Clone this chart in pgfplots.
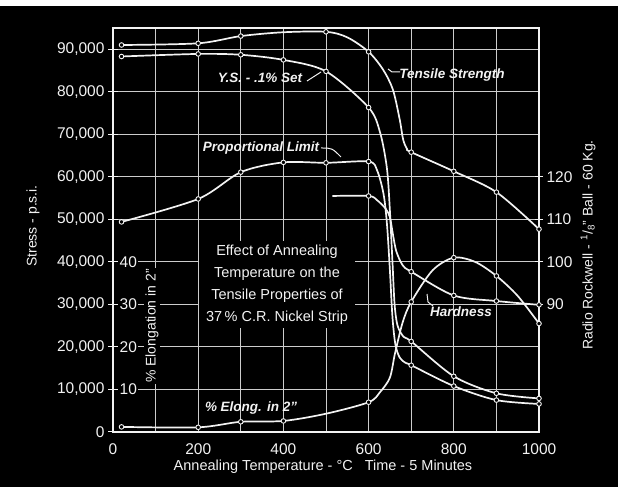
\documentclass[border=0pt]{standalone}
\usepackage{pgfplots}
\pgfplotsset{compat=1.18}
\usepackage{fontspec}
\setmainfont{Liberation Sans}
\definecolor{gridc}{gray}{0.80}
\definecolor{ink}{gray}{0.95}

\begin{document}
\begin{tikzpicture}[x=1bp,y=1bp]
\useasboundingbox (0,0) rectangle (618,487);
\fill[black] (0,0) rectangle (618,481);
\fill[white] (0,481) rectangle (618,487);

\pgfplotsset{
  every axis/.append style={
    scale only axis, width=426bp, height=404bp,
    at={(113bp,55bp)}, anchor=south west,
    xmin=0, xmax=1000, clip=false,
    scaled ticks=false,
    /pgf/number format/assume math mode=true,
    tick label style={text=ink, font=\fontsize{15.5bp}{18bp}\selectfont},
  },
  curve/.style={ink, line width=1.7bp, smooth, tension=0.5, no marks},
  pts/.style={only marks, mark=*, mark size=2.3bp, mark options={draw=ink, fill=black, line width=0.9bp}},
}

% ---------------- Main axis: stress ----------------
\begin{axis}[
  ymin=0, ymax=95000,
  axis line style={ink, line width=1.3bp},
  grid=major, major grid style={gridc, line width=0.9bp},
  xtick={0,100,...,1000}, xticklabels={0,,200,,400,,600,,800,,1000},
  x tick style={draw=none},
  xticklabel style={yshift=-3bp},
  ytick={0,10000,...,90000},
  yticklabels={0,{10,000},{20,000},{30,000},{40,000},{50,000},{60,000},{70,000},{80,000},{90,000}},
  ytick pos=left,
  y tick style={ink, line width=1bp}, tick align=center, major tick length=10bp,
]
% Tensile strength
\addplot[curve] coordinates {(20,91000) (200,91400) (300,93100) (400,94000) (500,94100) (550,92800) (600,89400) (634,85200) (657,80500) (673,73500) (681,68800) (690,66600) (700,65800) (800,61300) (900,56400) (1000,47700)};
\addplot[pts] coordinates {(20,91000) (200,91400) (300,93100) (500,94100) (600,89400) (700,65800) (800,61300) (900,56400) (1000,47700)};
% Y.S. - .1% set
\addplot[curve] coordinates {(20,88300) (200,88900) (300,88700) (400,87500) (500,84800) (600,76300) (627,70400) (643,62000) (650,52000) (656,40000) (661,30000) (668,25000) (682,22400) (700,21300) (800,13100) (900,9100) (1000,7900)};
\addplot[pts] coordinates {(20,88300) (200,88900) (300,88700) (400,87500) (500,84800) (600,76300) (700,21300) (800,13100) (900,9100) (1000,7900)};
% Proportional limit
\addplot[curve] coordinates {(20,49400) (200,54800) (300,61100) (400,63400) (500,63300) (600,63600) (620,61500) (635,56000) (643,49000) (650,38000) (656,27000) (663,20500) (673,17500) (686,16300) (700,15700) (800,10800) (900,7500) (1000,6600)};
\addplot[pts] coordinates {(20,49400) (200,54800) (300,61100) (400,63400) (500,63300) (600,63600) (700,15700) (800,10800) (900,7500) (1000,6600)};
\end{axis}

% ---------------- Elongation axis (inner left) ----------------
\begin{axis}[
  ymin=0, ymax=95,
  hide x axis,
  axis y line*=left, y axis line style={draw=none},
  ytick={10,20,30,40}, major tick length=0pt,
  yticklabel style={anchor=west, fill=black, inner sep=1.5bp, xshift=5bp},
]
\addplot[curve] coordinates {(20,1.2) (200,1.1) (300,2.4) (400,2.6) (500,4.3) (600,7.0) (627,9.4) (650,12.8) (662,18.5) (680,25.8) (700,30.6) (750,38.0) (800,41.0) (850,40.0) (900,36.7) (950,32.0) (1000,25.5)};
\addplot[pts] coordinates {(20,1.2) (200,1.1) (300,2.4) (400,2.6) (600,7.0) (700,30.6) (800,41.0) (900,36.7) (1000,25.5)};
\end{axis}

% ---------------- Hardness axis (right) ----------------
\begin{axis}[
  ymin=60, ymax=155,
  hide x axis,
  axis y line*=right, y axis line style={draw=none},
  ytick={90,100,110,120},
  y tick style={ink, line width=1bp}, tick align=center, major tick length=8bp,
  yticklabel style={anchor=west},
]
\addplot[curve] coordinates {(515,115.5) (600,115.5) (620,114.5) (640,112.5) (650,110.5) (657,106.5) (665,102.5) (680,99.2) (700,97.7) (800,92.1) (900,90.8) (1000,89.9)};
\addplot[pts] coordinates {(600,115.5) (700,97.7) (800,92.1) (900,90.8) (1000,89.9)};
\end{axis}

% ---------------- Texts ----------------
\node[text=ink, font=\fontsize{14.5bp}{17bp}\selectfont] at (323,20) {Annealing Temperature - °C\hspace{12bp}Time - 5 Minutes};
\node[rotate=90, text=ink, font=\fontsize{14bp}{16bp}\selectfont] at (33,261) {Stress - p.s.i.};
\node[rotate=90, text=ink, fill=black, inner sep=1.5bp, font=\fontsize{14bp}{16bp}\selectfont] at (152,161) {\% Elongation in 2''};
\node[rotate=90, text=ink, font=\fontsize{14bp}{16bp}\selectfont] at (588,242) {Radio Rockwell - \textsuperscript{1}/\textsubscript{8}'' Ball - 60 Kg.};

\node[fill=black, minimum width=156bp, minimum height=87bp, align=center, text=ink,
      font=\fontsize{14.5bp}{22bp}\selectfont] at (277,202)
  {Effect of Annealing\\Temperature on the\\Tensile Properties of\\37\,\% C.R. Nickel Strip};

\begin{scope}[font=\fontsize{13.5bp}{16bp}\selectfont\bfseries\itshape, text=ink]
\node at (260,409) {Y.S. - .1\% Set};
\node at (261,339) {Proportional Limit};
\node at (452,412) {Tensile Strength};
\node at (251,79) {\% Elong. in 2''};
\node at (461,175) {Hardness};
\end{scope}
\draw[ink, line width=1bp] (307,406) -- (321,415);
\draw[ink, line width=1bp] (321,339) .. controls (332,339) .. (341,330);
\draw[ink, line width=1bp] (388,418) -- (392,415) -- (400,415);
\draw[ink, line width=1bp] (427,193) -- (428,185) -- (433,181);
\end{tikzpicture}
\end{document}
